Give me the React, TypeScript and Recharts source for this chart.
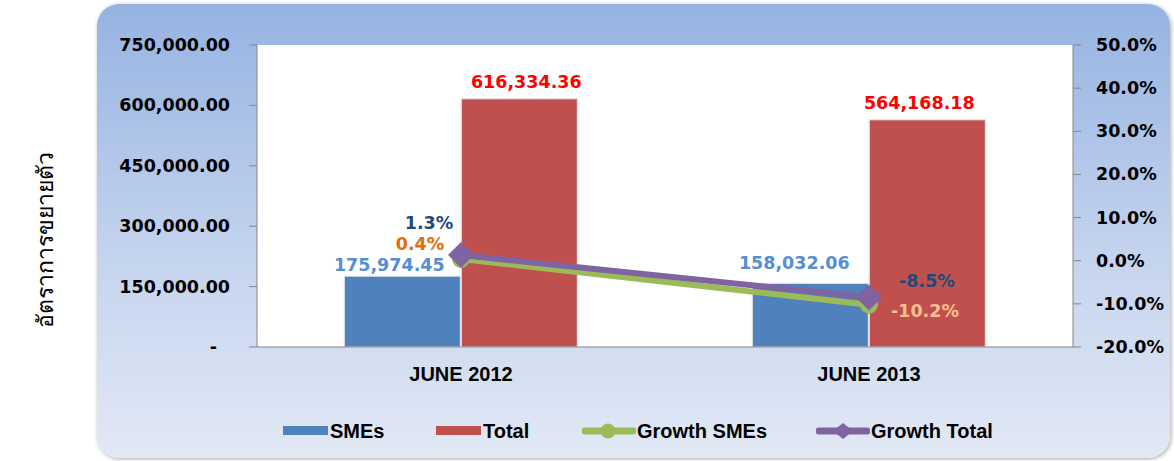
import {
  Bar,
  CartesianGrid,
  ComposedChart,
  LabelList,
  Line,
  XAxis,
  YAxis,
} from "recharts";

// Werte
const categories = ["JUNE 2012", "JUNE 2013"];
const smes = [175974.45, 158032.06];
const total = [616334.36, 564168.18];
const growthSmes = [0.4, -10.2];
const growthTotal = [1.3, -8.5];
const leftTicks = [0, 150000, 300000, 450000, 600000, 750000];
const rightTicks = [-20, -10, 0, 10, 20, 30, 40, 50];

const data = categories.map((name, i) => ({
  name,
  smes: smes[i],
  total: total[i],
  growthSmes: growthSmes[i],
  growthTotal: growthTotal[i],
}));

const COLOR_SMES = "#4F81BD";
const COLOR_TOTAL = "#C0504D";
const COLOR_G_SMES = "#9BBB59";
const COLOR_G_TOTAL = "#8064A2";
const COLOR_AXIS = "#868686";

const FONT = "'DejaVu Sans', Verdana, sans-serif";
// kein Calibri da -> Liberation Sans fett
const FONT_LABEL = "'Liberation Sans', Arial, sans-serif";

const fmtMoney = (v: number) =>
  v.toLocaleString("en-US", { minimumFractionDigits: 2, maximumFractionDigits: 2 });

function LeftTick({ x, y, payload }: any) {
  const zero = payload.value === 0;
  return (
    <text
      x={zero ? x - 13 : x}
      y={y}
      dy={6}
      textAnchor="end"
      fontFamily={FONT}
      fontWeight="bold"
      fontSize={17.5}
      fill="#000"
    >
      {zero ? "-" : fmtMoney(payload.value)}
    </text>
  );
}

function RightTick({ x, y, payload }: any) {
  return (
    <text
      x={x}
      y={y}
      dy={6}
      textAnchor="start"
      fontFamily={FONT}
      fontWeight="bold"
      fontSize={17.5}
      fill="#000"
    >
      {`${payload.value.toFixed(1)}%`}
    </text>
  );
}

function CategoryTick({ x, y, payload }: any) {
  return (
    <text
      x={x}
      y={y}
      dy={7}
      textAnchor="middle"
      fontFamily={FONT_LABEL}
      fontWeight="bold"
      fontSize={20}
      fill="#000"
    >
      {payload.value}
    </text>
  );
}

function barLabel(color: string, offsets: number[][]) {
  return (p: any) => {
    const o = offsets[p.index] || [0, 10];
    return (
      <text
        x={p.x + p.width / 2 + o[0]}
        y={p.y - o[1]}
        textAnchor="middle"
        fontFamily={FONT}
        fontWeight="bold"
        fontSize={17.5}
        fill={color}
      >
        {fmtMoney(p.value)}
      </text>
    );
  };
}

function growthLabel(offsets: number[][], colors: string[]) {
  return (p: any) => {
    const o = offsets[p.index] || [0, 0];
    return (
      <text
        x={p.x + o[0]}
        y={p.y + o[1]}
        dy={6}
        textAnchor="middle"
        fontFamily={FONT}
        fontWeight="bold"
        fontSize={17.5}
        fill={colors[p.index]}
      >
        {`${p.value.toFixed(1)}%`}
      </text>
    );
  };
}

const circleDot = (p: any) => (
  <circle key={`c-${p.index}`} cx={p.cx} cy={p.cy} r={9} fill={COLOR_G_SMES} />
);

const diamondDot = (p: any) => {
  const r = 13;
  return (
    <polygon
      key={`d-${p.index}`}
      points={`${p.cx},${p.cy - r} ${p.cx + r},${p.cy} ${p.cx},${p.cy + r} ${p.cx - r},${p.cy}`}
      fill={COLOR_G_TOTAL}
    />
  );
};

const legendItems = [
  { label: "SMEs", color: COLOR_SMES, kind: "bar", left: 283 },
  { label: "Total", color: COLOR_TOTAL, kind: "bar", left: 436 },
  { label: "Growth SMEs", color: COLOR_G_SMES, kind: "circle", left: 582 },
  { label: "Growth Total", color: COLOR_G_TOTAL, kind: "diamond", left: 816 },
];

function LegendIcon({ kind, color }: { kind: string; color: string }) {
  if (kind === "bar") {
    return (
      <svg width={46} height={16} style={{ display: "block" }}>
        <rect x={0} y={3} width={45} height={9} fill={color} />
      </svg>
    );
  }
  return (
    <svg width={54} height={18} style={{ display: "block" }}>
      <line x1={3} y1={9} x2={51} y2={9} stroke={color} strokeWidth={7} strokeLinecap="round" />
      {kind === "circle" ? (
        <circle cx={26} cy={9} r={7.5} fill={color} />
      ) : (
        <polygon points="27,1 37,9 27,17 17,9" fill={color} />
      )}
    </svg>
  );
}

export default function App() {
  return (
    <div style={{ position: "absolute", left: 0, top: 0, width: 1174, height: 461, background: "#fff" }}>
      <div
        style={{
          position: "absolute",
          left: 45,
          top: 240,
          transform: "translate(-50%, -50%) rotate(-90deg)",
          whiteSpace: "nowrap",
          fontFamily: "'Noto Sans', 'DejaVu Sans', sans-serif",
          fontSize: 23,
          color: "#000",
        }}
      >
        อัตราการขยายตัว
      </div>
      <div
        style={{
          position: "absolute",
          left: 97,
          top: 4,
          width: 1073,
          height: 454,
          borderRadius: 22,
          background: "linear-gradient(to bottom, #95B3E1, #C4D3EE 55%, #E2E9F5)",
          boxShadow: "1px 1px 4px rgba(0,0,0,0.35)",
        }}
      />
      <div style={{ position: "absolute", left: 0, top: 0 }}>
        <ComposedChart
          width={1174}
          height={461}
          data={data}
          margin={{ top: 45, right: 0, bottom: 0, left: 0 }}
          barCategoryGap="21.4%"
          barGap={1}
        >
          <CartesianGrid horizontal={false} vertical={false} fill="#fff" />
          <XAxis
            dataKey="name"
            height={114}
            axisLine={{ stroke: COLOR_AXIS }}
            tickLine={false}
            tickSize={0}
            tickMargin={27}
            tick={<CategoryTick />}
          />
          <YAxis
            width={257}
            domain={[0, 750000]}
            ticks={leftTicks}
            axisLine={{ stroke: COLOR_AXIS }}
            tickLine={{ stroke: COLOR_AXIS }}
            tickSize={8}
            tickMargin={19}
            tick={<LeftTick />}
          />
          <YAxis
            yAxisId="right"
            orientation="right"
            width={101}
            domain={[-20, 50]}
            ticks={rightTicks}
            axisLine={{ stroke: COLOR_AXIS }}
            tickLine={{ stroke: COLOR_AXIS }}
            tickSize={8}
            tickMargin={15}
            tick={<RightTick />}
          />
          <Bar dataKey="smes" fill={COLOR_SMES} stroke="#e6e6e6" strokeWidth={1} isAnimationActive={false}>
            <LabelList dataKey="smes" content={barLabel("#558ED5", [[-13, 5], [-16, 14]])} />
          </Bar>
          <Bar dataKey="total" fill={COLOR_TOTAL} stroke="#e6e6e6" strokeWidth={1} isAnimationActive={false}>
            <LabelList dataKey="total" content={barLabel("#FF0000", [[7, 11], [-8, 11]])} />
          </Bar>
          <Line
            yAxisId="right"
            dataKey="growthSmes"
            stroke={COLOR_G_SMES}
            strokeWidth={6}
            dot={circleDot}
            activeDot={false}
            isAnimationActive={false}
          >
            <LabelList
              dataKey="growthSmes"
              content={growthLabel([[-41, -15], [56, 6]], ["#E46C0A", "#FAC090"])}
            />
          </Line>
          <Line
            yAxisId="right"
            dataKey="growthTotal"
            stroke={COLOR_G_TOTAL}
            strokeWidth={6}
            dot={diamondDot}
            activeDot={false}
            isAnimationActive={false}
          >
            <LabelList
              dataKey="growthTotal"
              content={growthLabel([[-32, -32], [58, -16]], ["#1F497D", "#1F497D"])}
            />
          </Line>
        </ComposedChart>
      </div>
      {legendItems.map((it) => (
        <div
          key={it.label}
          style={{
            position: "absolute",
            left: it.left,
            top: 420,
            height: 22,
            display: "flex",
            alignItems: "center",
            gap: 1,
            fontFamily: FONT_LABEL,
            fontWeight: "bold",
            fontSize: 20,
            color: "#000",
            whiteSpace: "nowrap",
          }}
        >
          <LegendIcon kind={it.kind} color={it.color} />
          <span>{it.label}</span>
        </div>
      ))}
    </div>
  );
}
